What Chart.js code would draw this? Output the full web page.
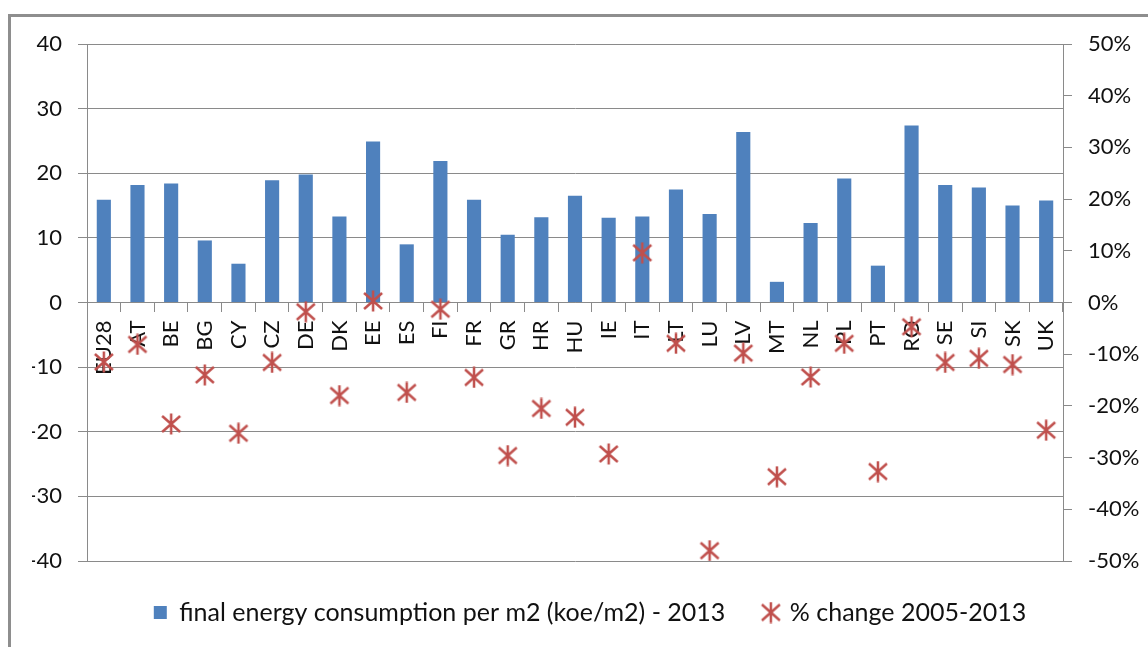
<!DOCTYPE html>
<html>
<head>
<meta charset="utf-8">
<script src="https://cdn.jsdelivr.net/npm/chart.js@4/dist/chart.umd.min.js"></script>
<style>
  html, body { margin: 0; padding: 0; background: #fff; overflow: hidden; }
  #frame { position: absolute; left: 8px; top: 14px; width: 1200px; height: 700px; border: 3px solid #8e8e8e; }
  #chart { position: absolute; left: 0; top: 0; }
</style>
</head>
<body>
<div id="frame"></div>
<canvas id="chart" width="1148" height="647"></canvas>
<script>
const countries = ['EU28', 'AT', 'BE', 'BG', 'CY', 'CZ', 'DE', 'DK', 'EE', 'ES', 'FI', 'FR', 'GR', 'HR', 'HU',
    'IE', 'IT', 'LT', 'LU', 'LV', 'MT', 'NL', 'PL', 'PT', 'RO', 'SE', 'SI', 'SK', 'UK'];
// koe/m2, 2013
const consumption = [15.9, 18.2, 18.4, 9.6, 6.0, 18.9, 19.8, 13.3, 24.9, 9.0, 21.9, 15.9, 10.5, 13.2, 16.5,
    13.1, 13.3, 17.5, 13.7, 26.4, 3.2, 12.3, 19.2, 5.7, 27.4, 18.2, 17.8, 15.0, 15.8];
// % change 2005-2013
const change = [-11.5, -8.1, -23.5, -14.0, -25.3, -11.6, -1.8, -18.0, 0.3, -17.4, -1.3, -14.5, -29.6, -20.5, -22.2,
    -29.3, 9.6, -7.9, -48.0, -9.8, -33.7, -14.4, -7.9, -32.7, -4.7, -11.6, -10.8, -12.0, -24.7];
const leftTicks = [-40, 40, 10];
const rightTicks = [-50, 50, 10];

const font = { family: 'Lato', size: 22 };
const legendFont = { family: 'Lato', size: 25 };
const textColor = '#111';
const gridColor = '#8a8a8a';

// asterisk marker: an X with a vertical stroke
function makeStar(size, color) {
    const c = document.createElement('canvas');
    c.width = size; c.height = size;
    const g = c.getContext('2d');
    const m = 2, s = size - 2;
    g.strokeStyle = color;
    g.lineWidth = 2.5;
    g.beginPath();
    g.moveTo(size / 2, 0.5); g.lineTo(size / 2, size - 0.5);
    g.moveTo(m, m + 1); g.lineTo(s, s - 1);
    g.moveTo(s, m + 1); g.lineTo(m, s - 1);
    g.stroke();
    return c;
}
const star = makeStar(22, '#c0504d');

const ctx = document.getElementById('chart').getContext('2d');
const chart = new Chart(ctx, {
    data: {
        labels: countries,
        datasets: [{
            type: 'bar',
            label: 'final energy consumption per m2 (koe/m2) - 2013',
            data: consumption,
            backgroundColor: '#4f81bd',
            barPercentage: 0.42,
            categoryPercentage: 1,
            pointStyle: 'rect',
            yAxisID: 'y',
            order: 1
        }, {
            type: 'line',
            label: '% change 2005-2013',
            data: change,
            showLine: false,
            pointStyle: star,
            pointRadius: 10,
            pointHoverRadius: 10,
            borderColor: '#c0504d',
            backgroundColor: '#c0504d',
            yAxisID: 'y1',
            order: 0
        }]
    },
    options: {
        responsive: false,
        animation: false,
        layout: { padding: { left: 32, right: 0, top: 44, bottom: 12 } },
        plugins: {
            tooltip: { enabled: false },
            legend: {
                position: 'bottom',
                labels: {
                    usePointStyle: true,
                    pointStyleWidth: 13,
                    boxHeight: 13,
                    padding: 39,
                    color: textColor,
                    font: legendFont,
                    sort: (a, b) => a.datasetIndex - b.datasetIndex
                }
            }
        },
        scales: {
            x: {
                position: { y: 0 },
                grid: { drawOnChartArea: false, color: gridColor, tickLength: 9 },
                border: { color: gridColor },
                ticks: {
                    autoSkip: false,
                    minRotation: 90,
                    maxRotation: 90,
                    padding: 9,
                    color: textColor,
                    font: font
                }
            },
            y: {
                position: 'left',
                min: leftTicks[0],
                max: leftTicks[1],
                afterFit: s => { s.width = 55; },
                grid: { color: gridColor, tickLength: 9 },
                border: { color: gridColor },
                ticks: { stepSize: leftTicks[2], padding: 16, color: textColor, font: font }
            },
            y1: {
                position: 'right',
                min: rightTicks[0],
                max: rightTicks[1],
                afterFit: s => { s.width = 85; },
                grid: { drawOnChartArea: false, color: gridColor, tickLength: 9 },
                border: { color: gridColor },
                ticks: {
                    stepSize: rightTicks[2],
                    padding: 16,
                    color: textColor,
                    font: font,
                    callback: v => Math.round(v) + '%'
                }
            }
        }
    }
});
</script>
</body>
</html>
